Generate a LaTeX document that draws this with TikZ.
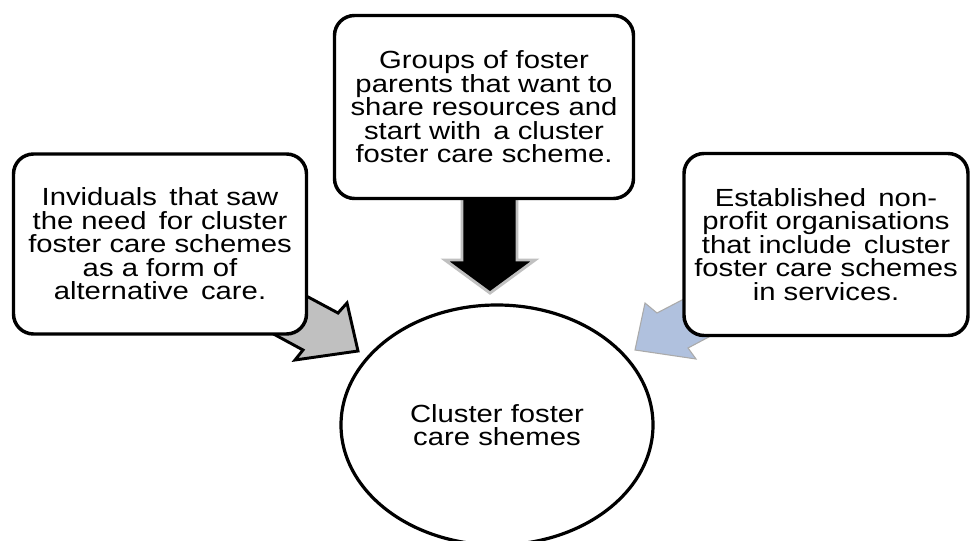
\documentclass[tikz,border=0pt]{standalone}
\usepackage{fontspec}
\setmainfont{Liberation Sans}[FakeStretch=1.18]
\usetikzlibrary{shapes.geometric}
\definecolor{arrgray}{RGB}{192,192,192}
\definecolor{arrblue}{RGB}{176,193,222}
\definecolor{edgegray}{RGB}{170,170,170}
\begin{document}
\begin{tikzpicture}[x=0.75pt,y=-0.75pt,
  txt/.style={font=\fontsize{18.6}{17.6}\selectfont, align=center, text=black},
  box/.style={txt, draw=black, line width=2.6pt, fill=white, rounded corners=15pt, inner sep=0pt},
  centre/.style={txt, ellipse, draw=black, line width=2.4pt, fill=white, inner sep=0pt},
  leftarrow/.style={fill=arrgray, draw=black, line width=2.2pt, line join=miter},
  midarrow/.style={fill=black, draw=arrgray, line width=2.2pt, line join=miter},
  rightarrow/.style={fill=arrblue, draw=edgegray, line width=0.8pt, line join=miter}]
\clip (0,0) rectangle (970,541);
\fill[white] (0,0) rectangle (970,541);
% arrows (behind the boxes)
\draw[leftarrow] (282,283) -- (338,313) -- (347,303) -- (358,351) -- (295,360) -- (303,350) -- (268,331) -- cycle;
\draw[midarrow] (462,180) -- (462,260) -- (445,260) -- (490,293) -- (535,260) -- (517,260) -- (517,180) -- cycle;
\draw[rightarrow] (707,287) -- (657,313) -- (645,303) -- (635,350) -- (696,359) -- (688,348) -- (722,330) -- cycle;
% boxes
\node[box, minimum width=219.75pt, minimum height=135pt] (L) at (160,244)
  {Inviduals\, that saw\\the need\, for cluster\\foster care schemes\\as a form of\\alternative\, care.};
\node[box, minimum width=224.25pt, minimum height=137.25pt] (M) at (484,107)
  {Groups of foster\\parents that want to\\share resources and\\start with\, a cluster\\foster care scheme.};
\node[box, minimum width=213pt, minimum height=136.5pt] (R) at (826,244.5)
  {Established\, non-\\profit organisations\\that include\, cluster\\foster care schemes\\in services.};
\node[centre, minimum width=234pt, minimum height=180pt] (C) at (497,425)
  {Cluster foster\\care shemes};
\end{tikzpicture}
\end{document}
